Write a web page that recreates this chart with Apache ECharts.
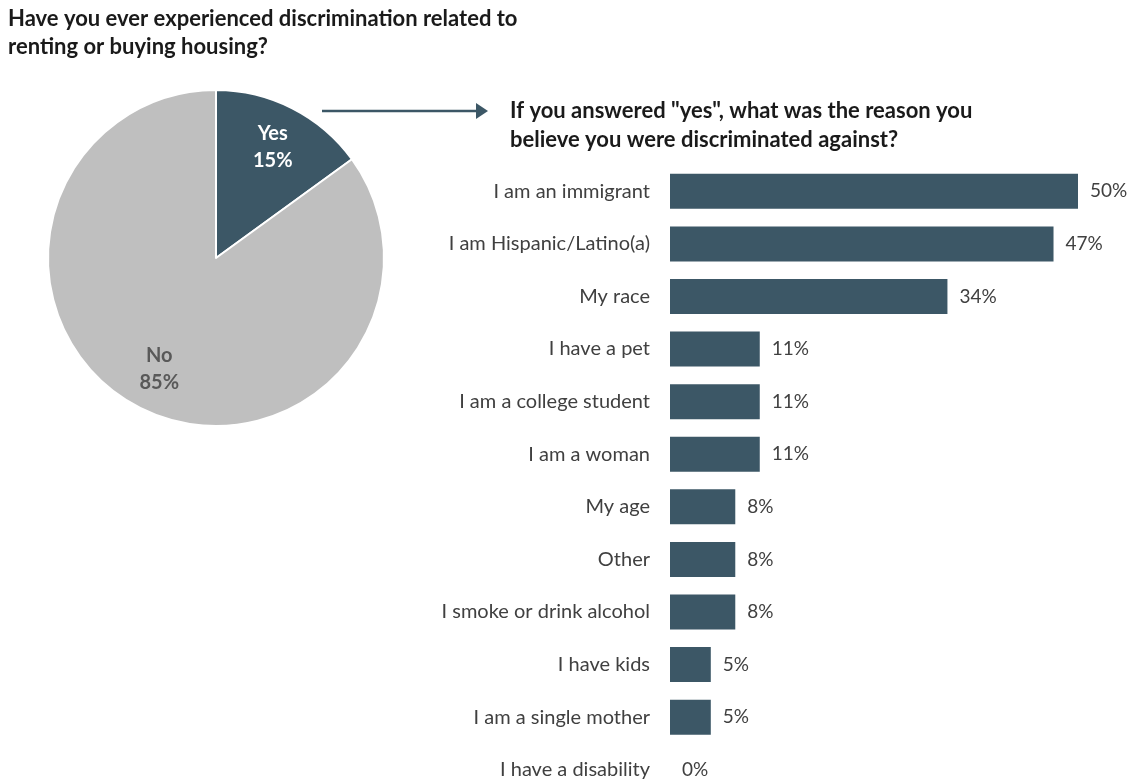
<!DOCTYPE html>
<html>
<head>
<meta charset="utf-8">
<script src="https://cdn.jsdelivr.net/npm/echarts@6/dist/echarts.min.js"></script>
<style>
html,body{margin:0;padding:0;background:#fff;}
#c{width:1136px;height:782px;}
</style>
</head>
<body>
<div id="c"></div>
<script>
const pieNames = ['Yes', 'No'];
const pieValues = [15, 85];
const reasons = ['I am an immigrant', 'I am Hispanic/Latino(a)', 'My race', 'I have a pet', 'I am a college student', 'I am a woman', 'My age', 'Other', 'I smoke or drink alcohol', 'I have kids', 'I am a single mother', 'I have a disability'];
const reasonValues = [50, 47, 34, 11, 11, 11, 8, 8, 8, 5, 5, 0];
const title1 = 'Have you ever experienced discrimination related to\nrenting or buying housing?';
const title2 = 'If you answered "yes", what was the reason you\nbelieve you were discriminated against?';

const DARK = '#3C5766';
const GRAY = '#BFBFBF';
const FONT = 'Lato, "Open Sans", sans-serif';

const chart = echarts.init(document.getElementById('c'));
const pieData = pieNames.map((n, i) => ({
  name: n, value: pieValues[i],
  itemStyle: {color: i === 0 ? DARK : GRAY}
}));
const pieLabelData = pieNames.map((n, i) => ({
  name: n, value: pieValues[i],
  label: {color: i === 0 ? '#FFFFFF' : '#595959'}
}));

chart.setOption({
  animation: false,
  textStyle: {fontFamily: FONT},
  title: [
    {text: title1, left: 8, top: 5, padding: 0, textStyle: {fontFamily: FONT, fontSize: 22, fontWeight: 'bold', color: '#1a1a1a', lineHeight: 28}},
    {text: title2, left: 510, top: 96, padding: 0, textStyle: {fontFamily: FONT, fontSize: 22, fontWeight: 'bold', color: '#1a1a1a', lineHeight: 29}}
  ],
  grid: {left: 670, top: 165, width: 448.8, height: 631, containLabel: false, outerBoundsMode: 'none'},
  xAxis: {type: 'value', min: 0, max: 55, show: false},
  yAxis: {
    type: 'category', data: reasons, inverse: true,
    axisLine: {show: false}, axisTick: {show: false},
    axisLabel: {fontFamily: FONT, fontSize: 20, color: '#404040', margin: 20}
  },
  series: [
    {
      type: 'pie', center: [216, 258], radius: 168, startAngle: 90, clockwise: true,
      data: pieData, label: {show: false}, labelLine: {show: false},
      itemStyle: {borderColor: '#fff', borderWidth: 2}, silent: true
    },
    {
      type: 'pie', center: [216, 258], radius: [76, 168], startAngle: 90, clockwise: true,
      data: pieLabelData, silent: true,
      itemStyle: {color: 'rgba(0,0,0,0)'},
      label: {show: true, position: 'inside', formatter: '{b}\n{c}%', fontFamily: FONT, fontSize: 20, fontWeight: 'bold', lineHeight: 27},
      labelLine: {show: false}
    },
    {
      type: 'bar', data: reasonValues, barWidth: 35,
      itemStyle: {color: DARK},
      label: {show: true, position: 'right', distance: 12, formatter: '{c}%', fontFamily: FONT, fontSize: 19, color: '#404040'}
    }
  ],
  graphic: [
    {type: 'line', shape: {x1: 322, y1: 111, x2: 478, y2: 111}, style: {stroke: DARK, lineWidth: 2.5}},
    {type: 'polygon', shape: {points: [[476, 103], [488, 111], [476, 119]]}, style: {fill: DARK}}
  ]
});
</script>
</body>
</html>
